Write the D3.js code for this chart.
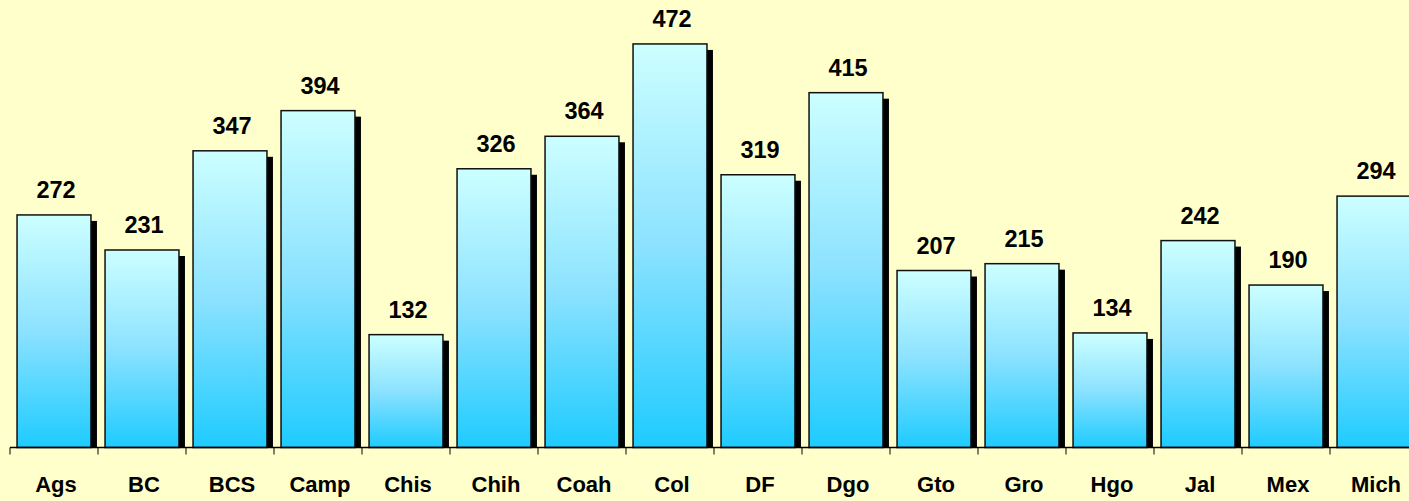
<!DOCTYPE html>
<html>
<head>
<meta charset="utf-8">
<script src="https://cdn.jsdelivr.net/npm/d3@7"></script>
<style>
  html, body { margin: 0; padding: 0; background: #ffffcc; overflow: hidden; }
  svg { display: block; }
  text { font-family: "Liberation Sans", Arial, sans-serif; font-weight: bold; fill: #000; }
</style>
</head>
<body>
<script>
// State abbreviations and their values
const categories = ["Ags", "BC", "BCS", "Camp", "Chis", "Chih", "Coah", "Col", "DF", "Dgo", "Gto", "Gro", "Hgo", "Jal", "Mex", "Mich"];
const values = [272, 231, 347, 394, 132, 326, 364, 472, 319, 415, 207, 215, 134, 242, 190, 294];

const W = 1409, H = 501;
const bandW = 88;
const x0 = 10;
const baseY = 447.5;

const svg = d3.select("body").append("svg")
  .attr("width", W).attr("height", H);

svg.append("rect").attr("width", W).attr("height", H).attr("fill", "#ffffcc");

const defs = svg.append("defs");
const grad = defs.append("linearGradient")
  .attr("id", "barFill").attr("x1", 0).attr("y1", 0).attr("x2", 0).attr("y2", 1);
grad.append("stop").attr("offset", "0%").attr("stop-color", "#ccffff");
grad.append("stop").attr("offset", "50%").attr("stop-color", "#8ce2ff");
grad.append("stop").attr("offset", "100%").attr("stop-color", "#1ecbff");

const x = d3.scaleBand()
  .domain(categories)
  .range([x0, x0 + bandW * categories.length])
  .paddingInner(0.16)
  .paddingOuter(0.08);

const y = d3.scaleLinear()
  .domain([0, 500])
  .range([baseY, baseY - 0.855 * 500]);

const data = categories.map((c, i) => ({ c, v: values[i] }));

// drop shadows behind each bar
svg.append("g").selectAll("rect").data(data).join("rect")
  .attr("x", d => x(d.c) + 6)
  .attr("y", d => y(d.v) + 6)
  .attr("width", x.bandwidth())
  .attr("height", d => baseY - y(d.v) - 6)
  .attr("fill", "#000");

// bars
svg.append("g").selectAll("rect").data(data).join("rect")
  .attr("x", d => x(d.c))
  .attr("y", d => y(d.v))
  .attr("width", x.bandwidth())
  .attr("height", d => baseY - y(d.v))
  .attr("fill", "url(#barFill)")
  .attr("stroke", "#111")
  .attr("stroke-width", 1.5);

// value labels
svg.append("g").selectAll("text").data(data).join("text")
  .attr("x", d => x(d.c) + x.bandwidth() / 2 + 2)
  .attr("y", d => y(d.v) - 17)
  .attr("text-anchor", "middle")
  .attr("font-size", 23.5)
  .text(d => d.v);

// category axis
const axis = svg.append("g");
axis.append("line")
  .attr("x1", x0).attr("x2", W)
  .attr("y1", baseY).attr("y2", baseY)
  .attr("stroke", "#000").attr("stroke-width", 1.5);
axis.selectAll("line.tick").data(d3.range(categories.length + 1)).join("line")
  .attr("class", "tick")
  .attr("x1", i => x0 + i * bandW).attr("x2", i => x0 + i * bandW)
  .attr("y1", baseY).attr("y2", baseY + 7)
  .attr("stroke", "#000").attr("stroke-width", 1);
axis.selectAll("text").data(categories).join("text")
  .attr("x", c => x(c) + x.bandwidth() / 2 + 2)
  .attr("y", 492)
  .attr("text-anchor", "middle")
  .attr("font-size", 22)
  .text(c => c);
</script>
</body>
</html>
